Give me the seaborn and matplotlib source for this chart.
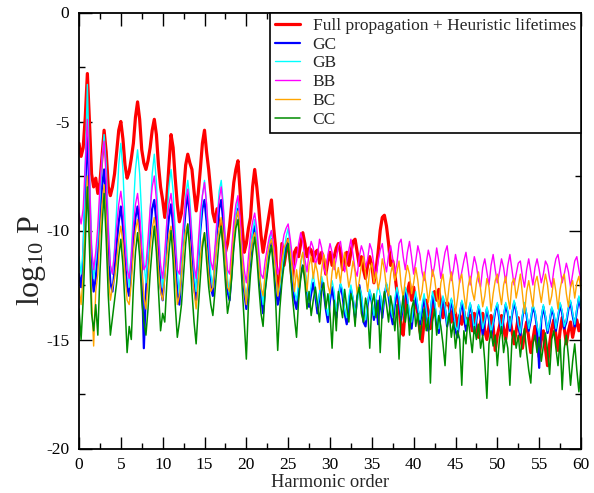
import numpy as np
import pandas as pd
import matplotlib
matplotlib.use("Agg")
import matplotlib.pyplot as plt
import seaborn as sns

# Harmonic order grid (step 0.25)
harmonic_order = [i * 0.25 for i in range(241)]

# log10 of the harmonic power for each model
full_propagation = [
    -6.0, -6.6, -6.2, -4.8, -2.8, -5.0, -7.4, -8.0,
    -7.6, -8.3, -7.8, -6.6, -5.4, -6.4, -8.0, -8.4,
    -8.0, -7.4, -6.4, -5.4, -5.0, -5.8, -7.0, -7.6,
    -7.3, -6.7, -6.0, -4.8, -4.1, -4.9, -6.3, -6.9,
    -7.2, -6.8, -6.2, -5.4, -4.9, -5.6, -7.0, -8.0,
    -8.6, -9.4, -8.5, -7.0, -5.6, -6.2, -7.6, -8.8,
    -9.6, -9.2, -8.2, -7.0, -6.5, -6.9, -7.2, -8.2,
    -9.1, -8.3, -7.2, -6.0, -5.4, -6.4, -7.2, -8.2,
    -9.2, -9.6, -9.0, -9.8, -9.6, -10.4, -11.0, -10.6,
    -9.8, -8.8, -7.8, -7.2, -6.8, -8.2, -9.8, -11.0,
    -10.6, -9.9, -9.4, -8.0, -7.2, -8.0, -9.0, -10.2,
    -11.0, -10.4, -9.8, -9.2, -8.6, -9.8, -10.8, -13.0,
    -12.4, -10.6, -11.6, -11.0, -10.4, -11.4, -12.4, -11.0,
    -10.8, -11.2, -10.6, -10.1, -10.6, -11.2, -10.8, -10.9,
    -11.4, -11.0, -10.9, -11.5, -11.0, -11.3, -12.0, -11.4,
    -11.0, -11.6, -11.2, -10.8, -10.6, -11.0, -11.8, -11.4,
    -11.0, -11.6, -11.0, -10.5, -10.4, -11.0, -11.6, -11.2,
    -11.8, -12.2, -11.6, -11.2, -11.6, -12.4, -11.8, -11.0,
    -10.0, -9.4, -9.3, -9.8, -10.6, -11.6, -11.4, -12.0,
    -12.8, -13.6, -14.4, -14.8, -13.6, -12.8, -12.4, -13.2,
    -12.6, -13.4, -13.8, -14.6, -15.1, -14.2, -13.2, -13.8,
    -14.5, -13.6, -12.8, -13.2, -12.7, -13.4, -14.0, -13.4,
    -13.3, -13.5, -14.2, -13.6, -13.8, -14.5, -13.9, -14.3,
    -13.7, -14.4, -14.0, -13.9, -14.6, -13.8, -14.4, -14.9,
    -14.2, -13.8, -14.6, -15.0, -14.4, -13.9, -14.4, -15.5,
    -14.8, -14.4, -13.9, -14.5, -15.0, -14.3, -14.0, -14.6,
    -15.2, -14.6, -14.0, -14.8, -15.4, -14.7, -14.2, -14.9,
    -15.6, -15.0, -14.4, -15.1, -15.8, -15.0, -14.6, -15.4,
    -16.2, -15.2, -14.5, -14.1, -14.8, -15.5, -14.6, -14.0,
    -14.5, -15.2, -14.6, -14.2, -14.9, -14.4, -14.1, -14.6,
    -14.3,
]

gc = [
    -12.0, -12.6, -11.4, -8.2, -5.2, -8.6, -11.6, -12.8,
    -12.2, -11.0, -9.4, -8.0, -7.2, -8.6, -11.0, -12.4,
    -12.8, -11.8, -10.6, -9.6, -8.9, -9.8, -11.4, -12.6,
    -13.0, -11.8, -10.4, -9.4, -8.9, -9.8, -11.6, -15.4,
    -12.8, -11.4, -10.0, -9.0, -8.6, -9.6, -11.2, -12.6,
    -13.2, -11.8, -10.4, -9.4, -8.8, -9.8, -11.4, -12.8,
    -13.4, -11.8, -10.2, -9.0, -8.3, -9.4, -11.0, -12.6,
    -13.2, -11.6, -10.0, -9.0, -8.6, -9.6, -11.2, -12.6,
    -13.0, -11.4, -10.0, -9.0, -8.6, -9.6, -11.2, -12.8,
    -13.2, -11.8, -10.4, -9.4, -9.0, -10.0, -11.6, -12.8,
    -13.6, -12.4, -11.2, -10.2, -9.8, -10.6, -11.8, -13.0,
    -13.8, -12.6, -11.6, -10.8, -10.4, -11.2, -12.4, -13.4,
    -13.0, -12.0, -11.2, -10.7, -10.5, -11.2, -12.4, -13.2,
    -13.6, -12.8, -12.0, -11.6, -12.0, -12.8, -13.5, -12.9,
    -12.4, -13.0, -13.8, -13.0, -12.3, -12.8, -13.6, -14.2,
    -13.2, -12.6, -13.3, -14.0, -13.1, -12.5, -13.0, -13.8,
    -14.3, -13.4, -12.7, -13.2, -14.0, -13.1, -12.5, -13.1,
    -14.2, -14.4, -13.4, -12.8, -13.3, -14.1, -13.2, -14.3,
    -13.0, -14.0, -13.0, -12.5, -13.0, -13.8, -14.3, -13.4,
    -12.8, -13.2, -14.1, -13.4, -12.7, -13.2, -14.0, -14.5,
    -13.6, -13.0, -13.6, -14.3, -13.7, -13.1, -13.6, -14.6,
    -13.8, -13.0, -13.4, -14.3, -14.7, -13.7, -13.1, -13.6,
    -14.4, -13.8, -13.2, -13.8, -14.6, -14.9, -13.9, -13.3,
    -13.8, -14.6, -14.0, -13.4, -13.9, -14.7, -14.1, -13.5,
    -14.0, -14.8, -14.2, -13.6, -14.1, -14.9, -14.3, -13.7,
    -13.4, -14.1, -14.7, -14.0, -13.4, -13.8, -14.6, -13.9,
    -13.3, -13.7, -14.4, -14.8, -14.0, -13.4, -13.9, -14.6,
    -14.1, -13.5, -13.8, -14.5, -16.3, -14.1, -13.5, -14.0,
    -14.7, -14.2, -13.6, -13.9, -14.6, -14.0, -13.4, -13.8,
    -14.5, -14.2, -13.6, -13.3, -13.9, -14.4, -13.7, -13.1,
    -13.6,
]

gb = [
    -11.2, -12.0, -10.8, -7.0, -3.3, -7.2, -10.6, -12.2,
    -11.4, -10.4, -8.6, -6.8, -5.6, -7.0, -9.6, -11.6,
    -12.0, -10.8, -9.0, -7.0, -6.0, -7.2, -9.6, -11.2,
    -12.6, -11.0, -9.0, -7.2, -6.3, -7.4, -9.4, -11.4,
    -12.4, -11.2, -9.2, -7.4, -6.5, -7.8, -9.8, -11.6,
    -12.6, -11.6, -9.6, -8.0, -7.2, -8.2, -10.0, -11.8,
    -13.0, -11.8, -10.0, -8.4, -7.7, -8.6, -10.2, -11.8,
    -12.8, -11.6, -9.8, -8.4, -7.7, -8.8, -10.6, -12.0,
    -12.6, -11.2, -9.6, -8.2, -7.7, -8.8, -10.6, -12.2,
    -13.0, -11.8, -10.4, -9.2, -8.6, -9.6, -11.0, -12.4,
    -13.2, -12.2, -11.0, -10.0, -9.5, -10.4, -11.6, -12.6,
    -13.4, -12.4, -11.4, -10.6, -10.0, -10.8, -12.0, -13.0,
    -12.6, -11.8, -11.0, -10.3, -9.9, -10.8, -12.0, -12.8,
    -13.2, -12.4, -11.6, -11.0, -11.6, -12.6, -13.3, -12.5,
    -12.0, -12.7, -13.5, -12.9, -12.1, -12.5, -13.4, -13.9,
    -12.9, -12.3, -12.8, -13.7, -13.2, -12.4, -12.7, -13.6,
    -14.0, -13.0, -12.5, -13.1, -13.8, -13.3, -12.6, -12.9,
    -13.7, -14.1, -13.3, -12.7, -13.2, -13.9, -13.1, -12.5,
    -12.9, -13.7, -13.0, -12.4, -12.8, -13.6, -14.0, -13.1,
    -12.6, -13.1, -13.9, -13.3, -12.6, -13.0, -13.8, -14.2,
    -13.3, -12.8, -13.5, -14.1, -13.4, -12.9, -13.6, -14.4,
    -13.7, -12.8, -13.2, -14.0, -14.5, -13.6, -13.0, -13.5,
    -14.3, -13.7, -13.1, -13.6, -14.4, -14.6, -13.8, -13.2,
    -13.5, -14.3, -13.9, -13.3, -13.8, -14.6, -14.0, -13.4,
    -13.7, -14.5, -14.1, -13.5, -14.0, -14.7, -14.2, -13.6,
    -13.3, -14.0, -14.6, -13.9, -13.3, -13.7, -14.5, -13.8,
    -13.2, -13.6, -14.3, -14.7, -13.9, -13.3, -13.8, -14.5,
    -14.0, -13.4, -13.7, -14.4, -14.8, -14.0, -13.4, -13.9,
    -14.6, -14.1, -13.5, -13.8, -14.5, -13.9, -13.3, -13.7,
    -14.4, -14.1, -13.5, -13.2, -13.8, -14.3, -13.6, -13.0,
    -13.5,
]

bb = [
    -9.2, -9.7, -9.0, -7.0, -4.9, -7.4, -10.8, -11.8,
    -11.0, -9.8, -8.0, -6.6, -5.9, -7.6, -10.0, -11.6,
    -12.0, -11.0, -9.8, -8.8, -8.2, -9.0, -10.6, -11.8,
    -12.2, -11.2, -9.8, -8.8, -8.3, -9.2, -10.8, -11.8,
    -11.6, -10.4, -9.0, -8.0, -7.5, -8.6, -10.4, -11.6,
    -12.2, -11.0, -9.6, -8.8, -8.3, -9.2, -10.6, -11.8,
    -12.0, -10.8, -9.6, -8.6, -8.1, -9.0, -10.4, -11.6,
    -12.2, -10.6, -9.2, -8.4, -7.8, -8.8, -10.2, -11.4,
    -11.8, -10.8, -9.4, -8.6, -8.0, -9.0, -10.6, -11.8,
    -12.0, -10.8, -9.6, -8.8, -8.4, -9.4, -10.8, -11.8,
    -12.4, -11.2, -10.2, -9.6, -9.2, -9.9, -11.0, -12.0,
    -12.2, -11.4, -10.8, -10.3, -10.0, -10.6, -11.4, -12.0,
    -11.6, -10.8, -10.2, -9.9, -9.7, -10.4, -11.2, -11.8,
    -11.4, -10.6, -10.1, -10.5, -11.3, -11.9, -11.0, -10.5,
    -10.8, -11.6, -11.2, -10.4, -10.8, -11.7, -12.0, -11.1,
    -10.6, -11.0, -11.8, -11.3, -10.7, -10.5, -11.2, -11.9,
    -11.4, -10.9, -10.4, -11.1, -11.8, -12.1, -11.2, -10.7,
    -11.0, -11.7, -11.3, -10.6, -10.9, -11.6, -12.2, -11.4,
    -10.9, -10.6, -11.4, -11.9, -11.1, -10.7, -11.3, -12.0,
    -11.5, -10.6, -10.4, -11.2, -11.8, -11.0, -10.5, -11.2,
    -12.0, -11.4, -10.7, -11.1, -11.9, -12.3, -11.5, -10.9,
    -11.3, -12.1, -11.6, -10.8, -11.4, -12.2, -11.6, -11.0,
    -10.7, -11.5, -12.3, -11.8, -11.1, -11.6, -12.4, -11.9,
    -11.4, -11.0, -11.7, -12.5, -11.8, -11.2, -11.6, -12.3,
    -12.6, -11.7, -11.3, -11.9, -12.5, -11.6, -11.1, -11.8,
    -12.4, -11.9, -11.3, -11.7, -12.4, -11.6, -11.1, -11.8,
    -12.5, -12.0, -11.5, -11.4, -12.1, -12.6, -11.8, -11.3,
    -11.9, -12.5, -11.7, -11.3, -11.8, -12.4, -12.0, -11.4,
    -11.6, -12.2, -12.6, -11.8, -11.3, -11.1, -11.7, -12.4,
    -12.0, -11.5, -11.9, -12.6, -12.0, -11.4, -11.2, -11.8,
    -12.3,
]

bc = [
    -12.6, -13.4, -12.0, -9.8, -7.5, -10.0, -13.0, -15.3,
    -12.8, -12.0, -10.2, -8.8, -7.9, -9.4, -12.0, -13.2,
    -12.6, -12.2, -11.4, -10.4, -9.8, -10.6, -12.0, -13.2,
    -13.4, -12.4, -11.0, -10.0, -9.5, -10.4, -11.8, -13.0,
    -13.6, -12.2, -10.8, -9.9, -9.4, -10.2, -11.8, -12.8,
    -13.2, -12.2, -11.2, -10.2, -9.8, -10.6, -12.0, -13.4,
    -13.0, -12.0, -10.8, -10.0, -9.7, -10.6, -11.8, -12.8,
    -13.6, -12.4, -11.2, -10.5, -10.1, -10.8, -12.0, -12.8,
    -12.6, -11.6, -10.6, -9.9, -9.4, -10.2, -11.4, -12.6,
    -12.8, -11.4, -10.2, -9.5, -9.1, -10.0, -11.4, -12.6,
    -13.4, -12.0, -11.0, -10.4, -10.1, -10.8, -11.8, -12.6,
    -13.0, -12.0, -11.2, -10.7, -10.4, -11.0, -12.0, -13.0,
    -12.4, -11.4, -10.8, -10.6, -10.4, -11.0, -11.8, -12.8,
    -11.8, -12.6, -11.4, -11.0, -11.9, -12.8, -11.6, -11.2,
    -12.2, -11.5, -11.9, -12.7, -11.8, -11.1, -11.6, -12.5,
    -12.9, -11.9, -11.3, -12.2, -11.7, -12.4, -11.5, -11.0,
    -11.8, -12.6, -12.1, -11.4, -11.9, -12.9, -12.3, -11.6,
    -11.2, -12.0, -12.8, -11.8, -11.5, -12.4, -11.9, -12.7,
    -12.2, -11.3, -11.8, -12.6, -13.0, -12.0, -11.5, -12.3,
    -11.9, -11.4, -12.5, -13.1, -12.2, -11.6, -12.0, -12.9,
    -12.4, -11.7, -12.3, -13.2, -12.8, -11.9, -12.5, -13.3,
    -12.6, -11.8, -12.2, -13.0, -13.5, -12.4, -12.0, -12.8,
    -13.4, -12.5, -11.9, -12.7, -13.8, -13.1, -12.3, -12.0,
    -12.9, -13.6, -12.6, -12.1, -12.8, -13.2, -12.4, -11.9,
    -12.7, -13.5, -13.0, -12.2, -12.6, -13.7, -12.9, -12.3,
    -12.0, -12.8, -13.4, -12.5, -12.1, -13.0, -13.6, -12.4,
    -12.2, -13.1, -12.6, -12.0, -12.9, -13.8, -12.8, -12.3,
    -12.9, -13.5, -12.4, -12.1, -12.7, -13.3, -12.6, -12.0,
    -12.5, -13.4, -13.0, -12.2, -12.8, -13.6, -12.7, -12.2,
    -12.0, -12.9, -13.5, -12.6, -12.3, -13.1, -12.4, -12.1,
    -12.8,
]

cc = [
    -13.6, -15.0, -13.2, -10.6, -8.0, -10.8, -13.8, -14.6,
    -13.4, -14.8, -12.0, -9.8, -8.3, -10.4, -13.0, -14.8,
    -14.0, -13.2, -12.4, -11.2, -10.4, -11.6, -13.4, -15.6,
    -14.4, -15.0, -12.6, -11.0, -10.1, -11.2, -13.2, -14.2,
    -14.8, -13.6, -12.0, -10.8, -9.8, -11.0, -12.8, -14.6,
    -13.8, -14.2, -12.4, -11.0, -10.0, -11.4, -13.4, -14.9,
    -14.2, -13.4, -12.0, -10.6, -9.7, -11.0, -12.8, -14.2,
    -15.2, -13.6, -12.2, -10.8, -10.1, -11.4, -12.6, -13.4,
    -13.9, -12.8, -11.6, -10.4, -9.8, -11.0, -12.4, -13.8,
    -13.2, -12.2, -10.8, -9.9, -9.5, -10.8, -12.6, -14.2,
    -15.9, -13.4, -12.0, -11.0, -10.3, -11.2, -12.6, -13.8,
    -14.4, -12.8, -12.0, -11.2, -10.7, -11.8, -13.2, -15.5,
    -13.6, -12.4, -11.6, -11.0, -10.6, -11.8, -13.0, -14.0,
    -14.9, -13.2, -12.2, -11.6, -12.4, -13.6, -12.8, -13.9,
    -13.2, -12.6, -13.4, -14.2, -12.8, -12.4, -13.6, -12.9,
    -13.8, -15.4, -13.2, -14.6, -12.8, -13.4, -14.0, -12.7,
    -13.5, -14.2, -12.9, -13.3, -14.4, -13.0, -12.6, -13.8,
    -14.2, -13.1, -13.6, -15.4, -13.4, -12.9, -14.0, -13.2,
    -15.6, -13.6, -12.8, -13.4, -14.2, -13.0, -13.6, -14.6,
    -13.4, -15.9, -13.8, -13.0, -14.2, -13.4, -14.8, -13.6,
    -13.2, -14.4, -13.8, -15.0, -14.2, -13.6, -14.6, -14.0,
    -17.0, -14.2, -13.6, -14.8, -13.9, -14.4, -15.2, -16.2,
    -14.4, -13.8, -14.9, -14.2, -15.4, -14.6, -15.0, -17.1,
    -14.6, -15.2, -14.0, -14.8, -15.6, -14.4, -15.0, -14.3,
    -15.4, -14.8, -16.0, -17.7, -15.2, -14.6, -15.3, -14.8,
    -16.2, -15.0, -14.4, -15.6, -14.9, -15.4, -17.1, -15.0,
    -14.6, -15.4, -14.8, -15.8, -15.0, -14.5, -15.6, -16.4,
    -17.0, -15.2, -14.8, -15.6, -14.9, -16.0, -15.3, -14.7,
    -15.5, -16.6, -15.0, -14.6, -15.4, -16.2, -15.0, -17.3,
    -15.4, -14.8, -15.8, -17.1, -16.0, -15.2, -16.4, -17.4,
    -16.2,
]

labels = ["Full propagation + Heuristic lifetimes", "GC", "GB", "BB", "BC", "CC"]
colors = ["#ff0000", "#0000ff", "#00ffff", "#ff00ff", "#ffa500", "#008c00"]
widths = [2.3, 1.6, 1.0, 1.0, 1.0, 1.1]
series = [full_propagation, gc, gb, bb, bc, cc]

x_ticks = [0, 5, 10, 15, 20, 25, 30, 35, 40, 45, 50, 55, 60]
y_ticks = [-20, -15, -10, -5, 0]

sns.set_theme(style="ticks")
serif = ["Liberation Serif", "DejaVu Serif"]
plt.rcParams["font.family"] = serif
plt.rcParams["mathtext.fontset"] = "custom"
plt.rcParams["mathtext.rm"] = "Liberation Serif"
plt.rcParams["mathtext.it"] = "Liberation Serif:italic"
plt.rcParams["axes.unicode_minus"] = False

fig = plt.figure(figsize=(5.94, 4.93), dpi=100)
ax = fig.add_axes([79 / 594, 1 - 448.5 / 493, (581 - 79) / 594, (448.5 - 12.5) / 493])

for vals, lab, col, lw in zip(series, labels, colors, widths):
    df = pd.DataFrame({"order": harmonic_order, "logp": vals})
    sns.lineplot(data=df, x="order", y="logp", ax=ax, color=col, linewidth=lw,
                 label=lab, estimator=None, sort=False)

ax.set_xlim(0, 60)
ax.set_ylim(-20, 0)
ax.set_xticks(x_ticks, [str(v) for v in x_ticks], fontfamily=serif, fontsize=12.5)
ax.set_xticks(np.arange(0, 61, 2.5), minor=True)
ax.set_yticks(y_ticks, [str(v) for v in y_ticks], fontfamily=serif, fontsize=12.5)
ax.set_yticks(np.arange(-20, 1, 2.5), minor=True)
ax.tick_params(which="both", direction="in", top=True, right=True, colors="black",
               width=1.0)
ax.tick_params(axis="x", which="major", pad=6)
ax.tick_params(axis="y", which="major", pad=7)
ax.tick_params(which="major", length=9)
ax.tick_params(which="minor", length=4.5)
for s in ax.spines.values():
    s.set_linewidth(1.3)
    s.set_color("black")

ax.set_xlabel("Harmonic order", fontsize=13.3, labelpad=1)
ax.set_ylabel(r"log$_{10}$ P", fontsize=23)
ax.yaxis.set_label_coords(-0.062, 0.43)

leg = ax.legend(loc="upper right", frameon=True, fancybox=False, framealpha=1,
                edgecolor="black", fontsize=12.5, borderaxespad=0, borderpad=0.3,
                labelspacing=0.15, handlelength=1.45, handletextpad=0.7)
leg.get_frame().set_linewidth(1.2)

fig.savefig("out.png", dpi=100)
